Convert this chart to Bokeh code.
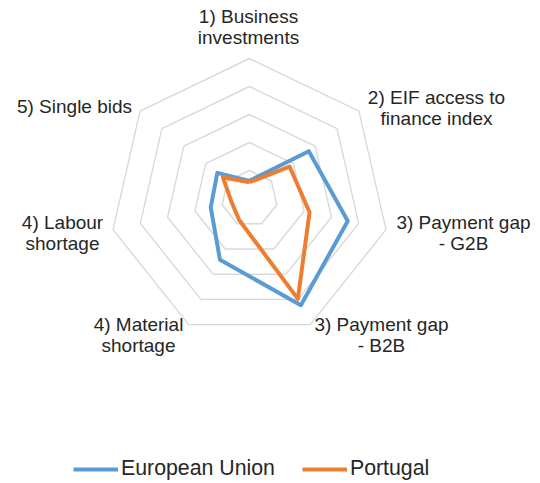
import numpy as np
from bokeh.plotting import figure
from bokeh.models import Range1d, Legend, LegendItem
from bokeh.core.properties import value
from bokeh.embed import file_html
from bokeh.resources import INLINE

# ---------------- data ----------------
categories = [
    "1) Business\ninvestments",
    "2) EIF access to\nfinance index",
    "3) Payment gap\n- G2B",
    "3) Payment gap\n- B2B",
    "4) Material\nshortage",
    "4) Labour\nshortage",
    "5) Single bids",
]
eu_values = [0.63, 2.71, 3.60, 4.23, 2.43, 1.42, 1.47]
pt_values = [0.58, 1.83, 2.20, 3.98, 0.85, 0.65, 1.22]
series_names = ["European Union", "Portugal"]
grid_levels = [1, 2, 3, 4, 5]

# ---------------- layout / style ----------------
W, H = 540, 483
CX, CY = 249, 198          # radar centre in canvas pixels
UNIT = 28.0                # pixels per value unit
FONT = "Liberation Sans"
TEXT_COLOR = "#262626"
EU_COLOR = "#5B9BD5"
PT_COLOR = "#ED7D31"
GRID_COLOR = "#D9D9D9"
# label box centres (canvas px) and line spacing
label_centers = [(248, 27.5), (436, 108.5), (463, 233), (381, 335.5),
                 (138, 335.5), (62, 233), (74, 107)]
LINE_GAP = 21
BASELINE_SHIFT = -0.8


def to_data(px, py):
    return (px - CX) / UNIT, (CY - py) / UNIT


x0, y0 = to_data(0, 0)
x1, y1 = to_data(W, H)

p = figure(width=W, height=H, output_backend="svg", toolbar_location=None,
           x_range=Range1d(x0, x1), y_range=Range1d(y1, y0),
           min_border=0, outline_line_color=None, background_fill_color="white")
p.axis.visible = False
p.grid.visible = False

n = len(categories)
theta = np.arange(n) * 2 * np.pi / n
dx, dy = np.sin(theta), np.cos(theta)


def closed(vals):
    v = np.asarray(vals, dtype=float)
    xs = list(v * dx) + [v[0] * dx[0]]
    ys = list(v * dy) + [v[0] * dy[0]]
    return xs, ys


for lvl in grid_levels:
    xs, ys = closed([lvl] * n)
    p.line(xs, ys, line_color=GRID_COLOR, line_width=1.4)

xs, ys = closed(eu_values)
r_eu = p.line(xs, ys, line_color=EU_COLOR, line_width=4, line_join="round")
xs, ys = closed(pt_values)
r_pt = p.line(xs, ys, line_color=PT_COLOR, line_width=4, line_join="round")

# category labels
tx, ty, tt = [], [], []
for cat, (lx, ly) in zip(categories, label_centers):
    lines = cat.split("\n")
    k = len(lines)
    for i, ln in enumerate(lines):
        cy_line = ly + (i - (k - 1) / 2) * LINE_GAP
        X, Y = to_data(lx, cy_line + BASELINE_SHIFT)
        tx.append(X)
        ty.append(Y)
        tt.append(ln)
p.text(x=tx, y=ty, text=tt, text_align="center", text_baseline="alphabetic",
       text_font=value(FONT), text_font_size="19px", text_color=TEXT_COLOR)

legend = Legend(
    items=[LegendItem(label=series_names[0], renderers=[r_eu]),
           LegendItem(label=series_names[1], renderers=[r_pt])],
    orientation="horizontal", location=(73, 2), padding=0, margin=0,
    spacing=27, glyph_width=45, glyph_height=20, label_standoff=3,
    label_text_font=FONT, label_text_font_size="21.3px",
    label_text_color=TEXT_COLOR, border_line_color=None,
    background_fill_alpha=0,
)
p.add_layout(legend)

open("out.html", "w").write(file_html(p, INLINE))
